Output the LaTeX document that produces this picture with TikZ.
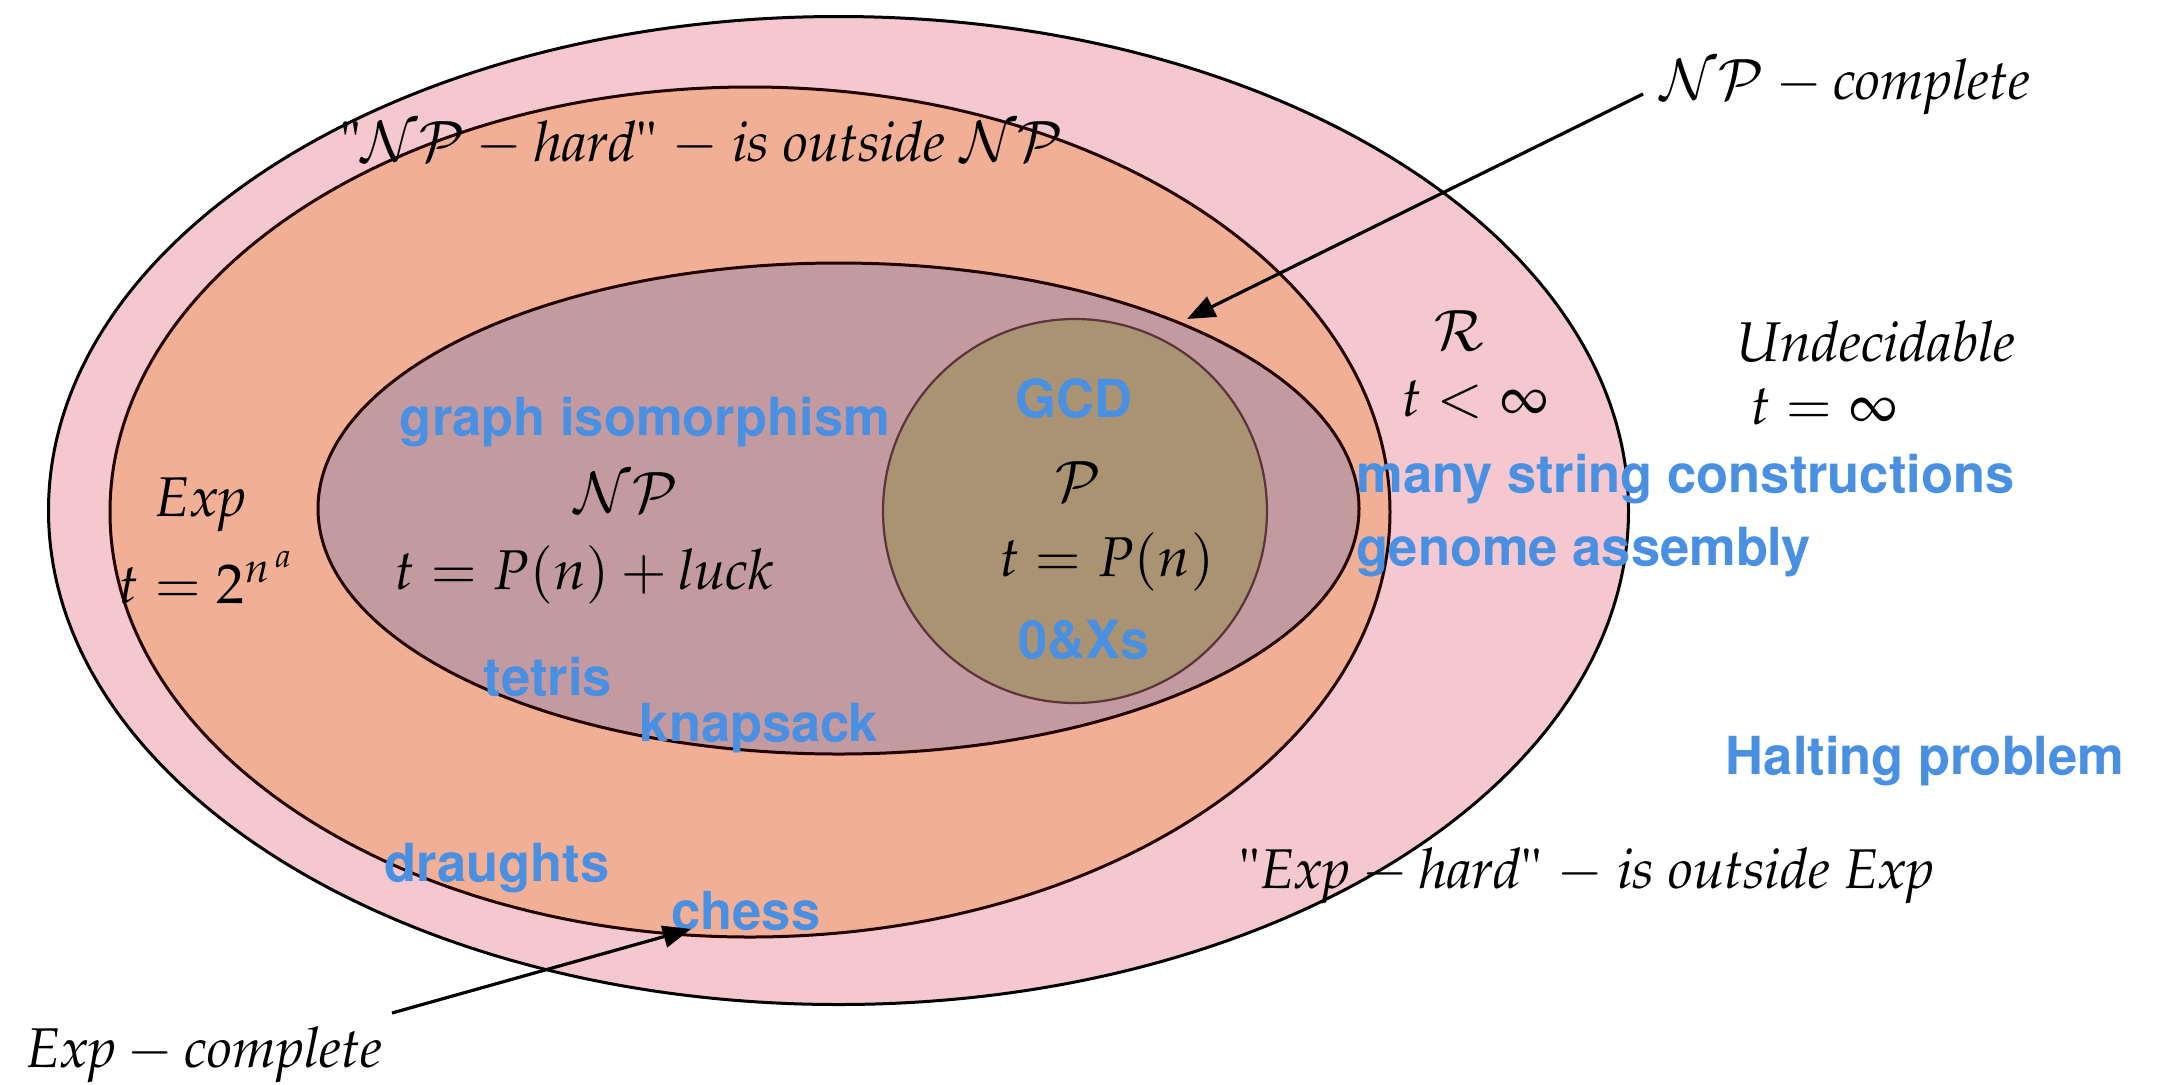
\documentclass[tikz,border=0pt]{standalone}
\usepackage[T1]{fontenc}
\usepackage{mathpazo}
\usepackage{helvet}
\usetikzlibrary{arrows.meta}
\definecolor{pinkset}{HTML}{F4C8CE}
\definecolor{expset}{HTML}{F1B096}
\definecolor{npset}{HTML}{C39A9F}
\definecolor{pset}{HTML}{AA9373}
\definecolor{pborder}{HTML}{5A343A}
\definecolor{darkline}{HTML}{220000}
\definecolor{lblblue}{HTML}{4A90E2}
\tikzset{
  serif/.style={font=\fontsize{28}{34}\selectfont\itshape, inner sep=0pt, anchor=base},
  bluelbl/.style={font=\fontsize{26.25}{30}\selectfont\sffamily\bfseries, text=lblblue, inner sep=0pt, anchor=base},
  arr/.style={line width=1.6pt, -{Triangle[length=14pt,width=11pt]}},
}
\begin{document}
\begin{tikzpicture}[x=0.5pt,y=-0.5pt]
\useasboundingbox (0,0) rectangle (2159,1084);
\fill[white] (0,0) rectangle (2159,1084);
% sets
\draw[line width=1.5pt, fill=pinkset] (838.5,510.5) ellipse [x radius=395pt, y radius=247pt];
\draw[line width=1.5pt, draw=darkline, fill=expset] (750,512) ellipse [x radius=320pt, y radius=212.5pt];
\draw[line width=1.5pt, draw=darkline, fill=npset] (838.5,508.5) ellipse [x radius=260.25pt, y radius=122.75pt];
\draw[line width=1.1pt, draw=pborder, fill=pset] (1075,511) circle [radius=96pt];
% serif labels
\node[serif] (nphard) at (702,161) {\mbox{\upshape"}$\mathcal{NP}-\mathit{hard}$\mbox{\upshape"} $-$ is outside $\mathcal{NP}$};
\node[serif] (npcomp) at (1845,99) {$\mathcal{NP}-\mathit{complete}$};
\node[serif] (rset) at (1459,350) {$\mathcal{R}$};
\node[serif] (rtime) at (1475,416) {$t<\infty$};
\node[serif] (undec) at (1876,361) {Undecidable};
\node[serif] (untime) at (1824,424) {$t=\infty$};
\node[serif] (exphard) at (1587,888) {\mbox{\upshape"}$\mathit{Exp}-\mathit{hard}$\mbox{\upshape"} $-$ is outside $\mathit{Exp}$};
\node[serif] (expcomp) at (204,1067) {$\mathit{Exp}-\mathit{complete}$};
\node[serif] (expname) at (201,516) {$\mathit{Exp}$};
\node[serif] (exptime) at (206,603) {$t=2^{n^{\,a}}$};
\node[serif] (npname) at (626,512) {$\mathcal{NP}$};
\node[serif] (nptime) at (584,589) {$t=P(n)+\mathit{luck}$};
\node[serif] (pname) at (1078,501) {$\mathcal{P}$};
\node[serif] (ptime) at (1107,576) {$t=P(n)$};
% blue problem labels
\node[bluelbl] (gcd) at (1074,417) {GCD};
\node[bluelbl] (oxs) at (1084,658) {0\&Xs};
\node[bluelbl] (graphiso) at (645,435) {graph isomorphism};
\node[bluelbl] (tetris) at (548,695) {tetris};
\node[bluelbl] (knapsack) at (759,741) {knapsack};
\node[bluelbl] (draughts) at (497,881) {draughts};
\node[bluelbl] (chess) at (746,929) {chess};
\node[bluelbl, anchor=base west] (strings) at (1356,492) {many string constructions};
\node[bluelbl, anchor=base west] (genome) at (1356,565) {genome assembly};
\node[bluelbl] (halting) at (1925,774) {Halting problem};
% arrows
\coordinate (npcstart) at (1643,94);
\coordinate (npctip) at (1187,319);
\coordinate (expcstart) at (392,1013);
\coordinate (expctip) at (691,929);
\draw[arr] (npcstart) -- (npctip);
\draw[arr] (expcstart) -- (expctip);
\end{tikzpicture}
\end{document}
